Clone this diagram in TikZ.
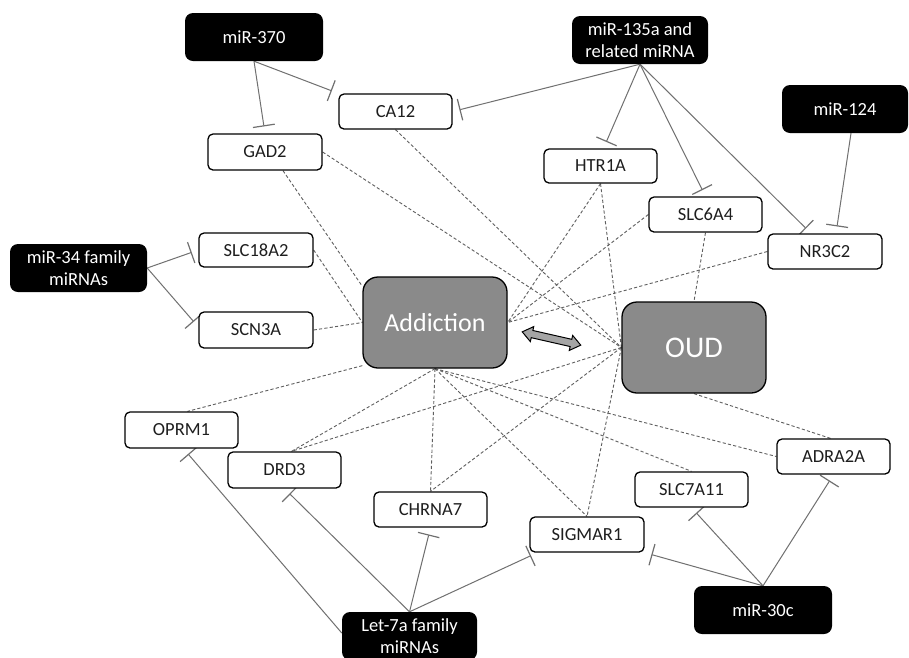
\documentclass[tikz,border=0pt]{standalone}
\usepackage{fontspec}
\setmainfont{Carlito}
\usetikzlibrary{arrows.meta,shapes.arrows,backgrounds}
\definecolor{disgray}{RGB}{138,138,138}
\definecolor{arrgray}{RGB}{165,165,165}
\definecolor{inhgray}{RGB}{112,112,112}
\definecolor{dashgray}{RGB}{95,95,95}
\definecolor{genetext}{RGB}{30,30,30}
\begin{document}
\begin{tikzpicture}[x=1pt,y=-1pt,
 mir/.style={fill=black,text=white,rounded corners=8pt,minimum width=138pt,minimum height=48pt,align=center,inner sep=0pt,font=\fontsize{18.5}{22}\selectfont},
 gene/.style={draw=black,line width=1.3pt,fill=white,rounded corners=5pt,minimum width=113pt,minimum height=35pt,inner sep=0pt,font=\fontsize{18.5}{21}\selectfont,text=genetext},
 dis/.style={draw=black,line width=1.3pt,fill=disgray,rounded corners=15pt,minimum width=144pt,minimum height=91pt,text=white,inner sep=0pt},
 inh/.style={draw=inhgray,line width=1pt,-{Bar[width=22pt,line width=1.2pt]},shorten >=7pt},
 assoc/.style={draw=dashgray,line width=0.9pt,dash pattern=on 3.2pt off 2.2pt},
]
\useasboundingbox (0,0) rectangle (909,657);

% nodes
\node[mir] (mir370) at (254,37) {miR-370};
\node[gene] (ca12) at (395.5,111.5) {CA12};
\node[gene,minimum width=114pt,minimum height=36pt] (gad2) at (265,152) {GAD2};
\node[mir,minimum width=136pt] (mir135) at (640,40) {miR-135a and\\related miRNA};
\node[mir,minimum width=126pt] (mir124) at (845,109) {miR-124};
\node[gene,minimum height=34pt] (htr1a) at (600.5,166) {HTR1A};
\node[gene] (slc6a4) at (705.5,214.5) {SLC6A4};
\node[gene,minimum width=114pt] (nr3c2) at (825,251.5) {NR3C2};
\node[mir,minimum width=137pt] (mir34) at (78.5,268) {miR-34 family\\miRNAs};
\node[gene,minimum width=114pt,minimum height=34pt] (slc18a2) at (256,250) {SLC18A2};
\node[gene,minimum width=114pt,minimum height=36pt] (scn3a) at (256,330) {SCN3A};
\node[dis,font=\fontsize{26}{30}\selectfont] (addiction) at (435,322.5) {Addiction};
\node[dis,font=\fontsize{30}{34}\selectfont] (oud) at (694,347.5) {OUD};
\node[double arrow,draw=black,line width=1pt,fill=arrgray,inner sep=3.2pt,
      double arrow head extend=4pt,double arrow tip angle=75,
      minimum height=60pt,rotate=-12.8] (link) at (551.5,338.5) {};
\node[gene,minimum height=36pt] (oprm1) at (181.5,430) {OPRM1};
\node[gene,minimum height=36pt] (drd3) at (284.5,470) {DRD3};
\node[gene] (chrna7) at (430.5,509.5) {CHRNA7};
\node[gene,minimum width=114pt] (sigmar1) at (587,534.5) {SIGMAR1};
\node[gene] (slc7a11) at (691.5,489.5) {SLC7A11};
\node[gene] (adra2a) at (833.5,456.5) {ADRA2A};
\node[mir] (mir30c) at (763,610) {miR-30c};
\node[mir,minimum width=135pt] (let7a) at (409.5,636) {Let-7a family\\miRNAs};

\begin{pgfonlayer}{background}
\fill[white] (0,0) rectangle (909,657);
% inhibitory connectors
\draw[inh] (mir370.south) -- (gad2.north);
\draw[inh] (mir370.south) -- (ca12.north west);
\draw[inh] (mir135.south) -- (ca12.east);
\draw[inh] (mir135.south) -- ([xshift=3pt]htr1a.north);
\draw[inh] (mir135.south) -- (slc6a4.north);
\draw[inh] (mir135.south) -- ([xshift=-14pt]nr3c2.north);
\draw[inh] ([xshift=6pt]mir124.south) -- ([xshift=11pt]nr3c2.north);
\draw[inh] (mir34.east) -- (slc18a2.west);
\draw[inh] (mir34.east) -- ([yshift=3pt]scn3a.west);
\draw[inh] ([yshift=3pt]let7a.west) -- ([xshift=2pt]oprm1.south);
\draw[inh] (let7a.north) -- (drd3.south);
\draw[inh] (let7a.north) -- (chrna7.south);
\draw[inh] (let7a.north) -- ([xshift=8pt]sigmar1.south west);
\draw[inh] (mir30c.north) -- (sigmar1.south east);
\draw[inh] (mir30c.north) -- (slc7a11.south);
\draw[inh] (mir30c.north) -- (adra2a.south);

% association connectors
\draw[assoc] ([xshift=18pt]gad2.south) -- ([yshift=-10pt]addiction.north west);
\draw[assoc] (gad2.east) -- (oud.west);
\draw[assoc] (ca12.south) -- (oud.west);
\draw[assoc] (slc18a2.east) -- (addiction.west);
\draw[assoc] (scn3a.east) -- (addiction.west);
\draw[assoc] (htr1a.south) -- (addiction.east);
\draw[assoc] (htr1a.south) -- (oud.west);
\draw[assoc] (slc6a4.west) -- (addiction.east);
\draw[assoc] (slc6a4.south) -- (oud.north);
\draw[assoc] (nr3c2.west) -- (addiction.east);
\draw[assoc] ([yshift=3pt]addiction.south west) -- ([xshift=6pt]oprm1.north);
\draw[assoc] (addiction.south) -- ([xshift=7pt]drd3.north);
\draw[assoc] (oud.west) -- ([xshift=7pt]drd3.north);
\draw[assoc] (addiction.south) -- (chrna7.north);
\draw[assoc] (oud.west) -- (chrna7.north);
\draw[assoc] (addiction.south) -- (sigmar1.north);
\draw[assoc] (oud.west) -- (sigmar1.north);
\draw[assoc] (addiction.south) -- (slc7a11.north);
\draw[assoc] (addiction.south) -- (adra2a.west);
\draw[assoc] (oud.south) -- ([xshift=-3pt]adra2a.north);
\end{pgfonlayer}
\end{tikzpicture}
\end{document}
